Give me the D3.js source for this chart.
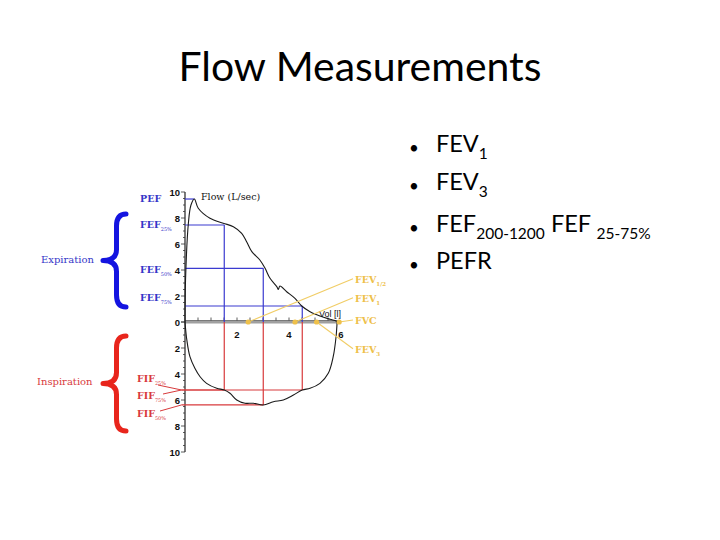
<!DOCTYPE html>
<html><head><meta charset="utf-8">
<script src="https://cdn.jsdelivr.net/npm/d3@7"></script>
<style>body{margin:0;background:#fff} svg{display:block}</style>
</head><body><svg id="c" width="720" height="540"></svg>
<script>
// ---------- data ----------
const expVol  = [0, 0.02, 0.13, 0.23, 0.36, 0.51, 0.96, 1.47, 1.86, 2.18, 2.37, 2.57, 2.88, 3.08, 3.27, 3.53, 3.59, 3.65, 3.91, 4.23, 4.49, 4.81, 5.19, 5.58, 5.81, 5.85];
const expFlow = [0, 3.2, 7.6, 9.0, 9.46, 8.75, 7.98, 7.6, 7.33, 6.82, 6.18, 5.41, 4.77, 4.13, 3.36, 2.72, 2.5, 2.77, 2.33, 1.82, 1.23, 0.79, 0.46, 0.21, 0.08, 0];
const inspVol  = [0, 0.07, 0.19, 0.38, 0.58, 0.83, 1.22, 1.51, 1.73, 1.99, 2.31, 2.63, 3.01, 3.4, 3.78, 4.17, 4.51, 4.81, 5.19, 5.51, 5.7, 5.81, 5.85];
const inspFlow = [0, 1.38, 2.67, 3.56, 4.21, 4.72, 5.1, 5.23, 5.48, 6.0, 6.25, 6.25, 6.38, 6.13, 6.0, 5.62, 5.23, 5.1, 4.72, 3.95, 2.67, 1.13, 0];
const flowTicks = [0, 2, 4, 6, 8, 10];
const volTicks  = [2, 4, 6];
const pefVol = 0.36, pefFlow = 9.46;
const fefVol  = [1.51, 3.01, 4.51];
const fefFlow = [7.46, 4.13, 1.23];
const fefSubs = ["25%", "50%", "75%"];
const fifVol  = [1.51, 3.01, 4.51];
const fifFlow = [5.23, 6.38, 5.23];
const fifNames = ["FIF", "FIF", "FIF"];
const fifSubs  = ["25%", "75%", "50%"];
const fevNames = ["FEV", "FEV", "FVC", "FEV"];
const fevSubs  = ["1/2", "1", "", "3"];
const fevVol   = [2.43, 4.23, 5.93, 5.06];
const bullets = [
  [["FEV",""],["1","sub"]],
  [["FEV",""],["3","sub"]],
  [["FEF",""],["200-1200","sub"],[" FEF ",""],["25-75%","sub"]],
  [["PEFR",""]]
];
const title = "Flow Measurements";

// ---------- drawing ----------
const svg = d3.select("#c");
const x  = d3.scaleLinear().domain([0, 6]).range([185, 341]);
const yE = d3.scaleLinear().domain([0, 10]).range([322, 192]);
const yI = d3.scaleLinear().domain([0, 10]).range([322, 452]);

const BLUE = "#3636c8", BLUEL = "#3b3bd0", RED = "#d83a3c", GOLD = "#eec04a", GOLDL = "#f1cd66";

// title
const t = svg.append("text").attr("x", 360).attr("y", 81).attr("text-anchor", "middle")
  .style("font-family", "Lato, 'Open Sans', sans-serif").style("font-size", "38px").attr("fill", "#000").text(title);
{ const w = t.node().getComputedTextLength(); t.style("font-size", (38 * 363 / w) + "px"); }

// bullets
const bulletY = [159, 197, 239, 276];
const bg = svg.append("g").style("font-family", "Lato, 'Open Sans', sans-serif").attr("fill", "#000");
bullets.forEach((parts, i) => {
  const yy = bulletY[i];
  bg.append("text").attr("x", 414).attr("y", yy - 5).attr("text-anchor", "middle").style("font-size", "17px").text("\u2022");
  const tx = bg.append("text").attr("x", 436).attr("y", yy).style("font-size", "23.5px");
  parts.forEach(([s, k]) => {
    if (k === "sub") tx.append("tspan").attr("dy", 7).style("font-size", "15.5px").text(s);
    else tx.append("tspan").attr("dy", tx.selectAll("tspan").size() ? -7 : 0).text(s);
  });
});

// gray x axis
svg.append("line").attr("x1", x(0)).attr("x2", x(5.95)).attr("y1", yE(0)).attr("y2", yE(0))
  .attr("stroke", "#a0a0a0").attr("stroke-width", 3);
svg.append("line").attr("x1", x(0)).attr("x2", x(5.95)).attr("y1", yE(0) - 1.5).attr("y2", yE(0) - 1.5)
  .attr("stroke", "#555").attr("stroke-width", 0.7);
// x ticks (every 0.5)
svg.append("g").selectAll("line").data(d3.range(0.5, 6, 0.5)).join("line")
  .attr("x1", d => x(d)).attr("x2", d => x(d)).attr("y1", yE(0) - 1.5).attr("y2", yE(0) - 4.5)
  .attr("stroke", "#333").attr("stroke-width", 0.8);
svg.append("g").selectAll("text").data(volTicks).join("text")
  .attr("x", d => x(d)).attr("y", yE(0) + 16).attr("text-anchor", "middle")
  .style("font-family", "'Liberation Sans', Arial, sans-serif").style("font-weight", "bold").style("font-size", "9.5px")
  .attr("fill", "#111").text(d => d);

// y axis
svg.append("line").attr("x1", x(0)).attr("x2", x(0)).attr("y1", yE(10)).attr("y2", yI(10)).attr("stroke", "#222").attr("stroke-width", 1.2);
const minor = d3.range(0, 10.01, 0.5);
svg.append("g").selectAll("line").data(minor).join("line")
  .attr("x1", x(0)).attr("x2", d => x(0) - (d % 2 === 0 ? 4 : 2)).attr("y1", d => yE(d)).attr("y2", d => yE(d)).attr("stroke", "#333").attr("stroke-width", 0.8);
svg.append("g").selectAll("line").data(minor).join("line")
  .attr("x1", x(0)).attr("x2", d => x(0) - (d % 2 === 0 ? 4 : 2)).attr("y1", d => yI(d)).attr("y2", d => yI(d)).attr("stroke", "#333").attr("stroke-width", 0.8);
const tickFont = g => g.style("font-family", "'Liberation Sans', Arial, sans-serif").style("font-weight", "bold").style("font-size", "9.5px").attr("fill", "#111");
svg.append("g").call(tickFont).selectAll("text").data(flowTicks).join("text")
  .attr("x", x(0) - 5).attr("y", d => yE(d) + 3.5).attr("text-anchor", "end").text(d => d);
svg.append("g").call(tickFont).selectAll("text").data(flowTicks.filter(d => d > 0)).join("text")
  .attr("x", x(0) - 5).attr("y", d => yI(d) + 3.5).attr("text-anchor", "end").text(d => d);

// axis titles
svg.append("text").attr("x", 201).attr("y", 200).style("font-family", "'DejaVu Serif', serif").style("font-size", "9.5px").attr("fill", "#111").text("Flow (L/sec)");
svg.append("text").attr("x", 319).attr("y", 317).style("font-family", "'Liberation Sans', Arial, sans-serif").style("font-size", "9px").attr("fill", "#111").text("Vol [l]");

// blue reference lines
const bl = svg.append("g").attr("stroke", BLUEL).attr("stroke-width", 1.2);
bl.append("line").attr("x1", x(0)).attr("x2", x(pefVol)).attr("y1", yE(pefFlow)).attr("y2", yE(pefFlow));
fefVol.forEach((v, i) => {
  bl.append("line").attr("x1", x(0)).attr("x2", x(v)).attr("y1", yE(fefFlow[i])).attr("y2", yE(fefFlow[i]));
  bl.append("line").attr("x1", x(v)).attr("x2", x(v)).attr("y1", yE(0)).attr("y2", yE(fefFlow[i]));
});
// red reference lines
const rl = svg.append("g").attr("stroke", RED).attr("stroke-width", 1.2);
fifVol.forEach((v, i) => {
  rl.append("line").attr("x1", x(0) - 3.5).attr("x2", x(v)).attr("y1", yI(fifFlow[i])).attr("y2", yI(fifFlow[i]));
  rl.append("line").attr("x1", x(v)).attr("x2", x(v)).attr("y1", yI(0)).attr("y2", yI(fifFlow[i]));
});

// flow-volume loop
const lineE = d3.line().x((d, i) => x(expVol[i])).y((d, i) => yE(expFlow[i])).curve(d3.curveCatmullRom.alpha(0.5));
const lineI = d3.line().x((d, i) => x(inspVol[i])).y((d, i) => yI(inspFlow[i])).curve(d3.curveCatmullRom.alpha(0.5));
svg.append("path").attr("d", lineE(expVol)).attr("fill", "none").attr("stroke", "#1a1a1a").attr("stroke-width", 1.1);
svg.append("path").attr("d", lineI(inspVol)).attr("fill", "none").attr("stroke", "#1a1a1a").attr("stroke-width", 1.1);

// FEV markers
const fevLabelY = [282.7, 301.7, 324, 352.7];
const gl = svg.append("g");
fevVol.forEach((v, i) => {
  gl.append("line").attr("x1", x(v)).attr("y1", yE(0)).attr("x2", 353).attr("y2", fevLabelY[i] - 4)
    .attr("stroke", GOLDL).attr("stroke-width", 1.1);
});
gl.selectAll("circle").data(fevVol).join("circle").attr("cx", d => x(d)).attr("cy", yE(0)).attr("r", 2.6).attr("fill", GOLD);
fevNames.forEach((n, i) => {
  const tx = gl.append("text").attr("x", 355).attr("y", fevLabelY[i])
    .style("font-family", "'DejaVu Serif', serif").style("font-weight", "bold").style("font-size", "9.5px").attr("fill", GOLD);
  tx.append("tspan").text(n);
  if (fevSubs[i]) tx.append("tspan").attr("dy", 3).style("font-size", "5.5px").text(fevSubs[i]);
});

// brace helper
function brace(x0, x1, y0, y1, col) {
  const xm = (x0 + x1) / 2 + 2, ym = (y0 + y1) / 2;
  const p = d3.path();
  p.moveTo(x1, y0);
  p.quadraticCurveTo(xm, y0, xm, y0 + 12);
  p.lineTo(xm, ym - 11);
  p.quadraticCurveTo(xm, ym, x0, ym);
  p.quadraticCurveTo(xm, ym, xm, ym + 11);
  p.lineTo(xm, y1 - 12);
  p.quadraticCurveTo(xm, y1, x1, y1);
  svg.append("path").attr("d", p.toString()).attr("fill", "none").attr("stroke", col).attr("stroke-width", 5).attr("stroke-linecap", "round").attr("stroke-linejoin", "round");
}
brace(103, 126, 214, 307, "#1414e0");
brace(103, 126, 336, 431, "#e8251c");

// left labels
svg.append("text").attr("x", 41).attr("y", 263).style("font-family", "'DejaVu Serif', serif").style("font-size", "10px").attr("fill", BLUE).text("Expiration");
svg.append("text").attr("x", 37).attr("y", 385).style("font-family", "'DejaVu Serif', serif").style("font-size", "10px").attr("fill", RED).text("Inspiration");

const lab = (xx, yy, name, sub, col) => {
  const tx = svg.append("text").attr("x", xx).attr("y", yy)
    .style("font-family", "'DejaVu Serif', serif").style("font-weight", "bold").style("font-size", "9.5px").attr("fill", col);
  tx.append("tspan").text(name);
  if (sub) tx.append("tspan").attr("dy", 3).style("font-size", "5px").style("font-weight", "normal").text(sub);
};
lab(140, 202, "PEF", "", BLUE);
const fefLabelY = [227.7, 273.3, 301];
fefSubs.forEach((s, i) => lab(140, fefLabelY[i], "FEF", s, BLUE));
const fifLabelY = [381.7, 399, 416.7];
fifNames.forEach((n, i) => lab(137, fifLabelY[i], n, fifSubs[i], RED));
// FIF pointers
const ptr = [[158, 385, yI(fifFlow[0])], [163, 394, yI(fifFlow[2])], [160, 411, yI(fifFlow[1])]];
ptr.forEach(([a, b, c]) => svg.append("line").attr("x1", a).attr("y1", b).attr("x2", x(0) - 3.5).attr("y2", c).attr("stroke", RED).attr("stroke-width", 1));
</script></body></html>
